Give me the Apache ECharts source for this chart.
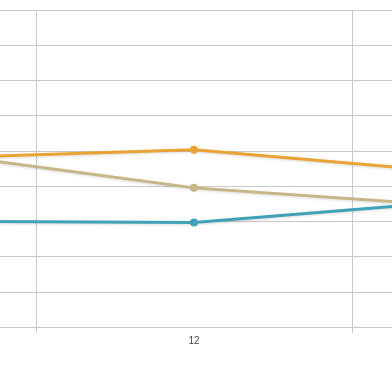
<!DOCTYPE html>
<html><head><meta charset="utf-8">
<script src="https://cdn.jsdelivr.net/npm/echarts@6/dist/echarts.min.js"></script>
<style>html,body{margin:0;padding:0;background:#fff;overflow:hidden;width:392px;height:392px}#c{position:absolute;left:-280px;top:0;width:948px;height:392px}</style>
</head><body><div id="c"></div>
<script>
var categories = ['11', '12', '13'];
var orangeValues = [4.75, 5.03, 4.26];
var tanValues = [5.15, 3.95, 3.33];
var blueValues = [3.01, 2.97, 3.69];

var chart = echarts.init(document.getElementById('c'), null, {renderer: 'canvas'});
function s(name, data, color) {
  return {
    name: name, type: 'line', data: data, symbol: 'circle', symbolSize: 8,
    lineStyle: {width: 3, color: color, shadowColor: 'rgba(0,0,0,0.15)', shadowBlur: 3, shadowOffsetY: 1},
    itemStyle: {color: color},
    animation: false
  };
}
chart.setOption({
  animation: false,
  grid: {left: 0, right: 0, top: 10, bottom: 65, containLabel: false},
  xAxis: {
    type: 'category', data: categories, boundaryGap: true,
    axisLine: {show: true, lineStyle: {color: '#c8c8c8', width: 1}},
    axisTick: {show: true, length: 6, lineStyle: {color: '#c8c8c8'}},
    splitLine: {show: true, lineStyle: {color: '#c8c8c8', width: 1}},
    axisLabel: {color: '#444', fontSize: 10, margin: 9, fontFamily: 'Arial'}
  },
  yAxis: {
    type: 'value', min: 0, max: 9, interval: 1,
    axisLine: {show: false}, axisTick: {show: false}, axisLabel: {show: false},
    splitLine: {show: true, lineStyle: {color: '#c8c8c8', width: 1}}
  },
  series: [
    s('A', orangeValues, '#E8A334'),
    s('B', tanValues, '#C6B585'),
    s('C', blueValues, '#3FA2B8')
  ]
});
</script></body></html>
